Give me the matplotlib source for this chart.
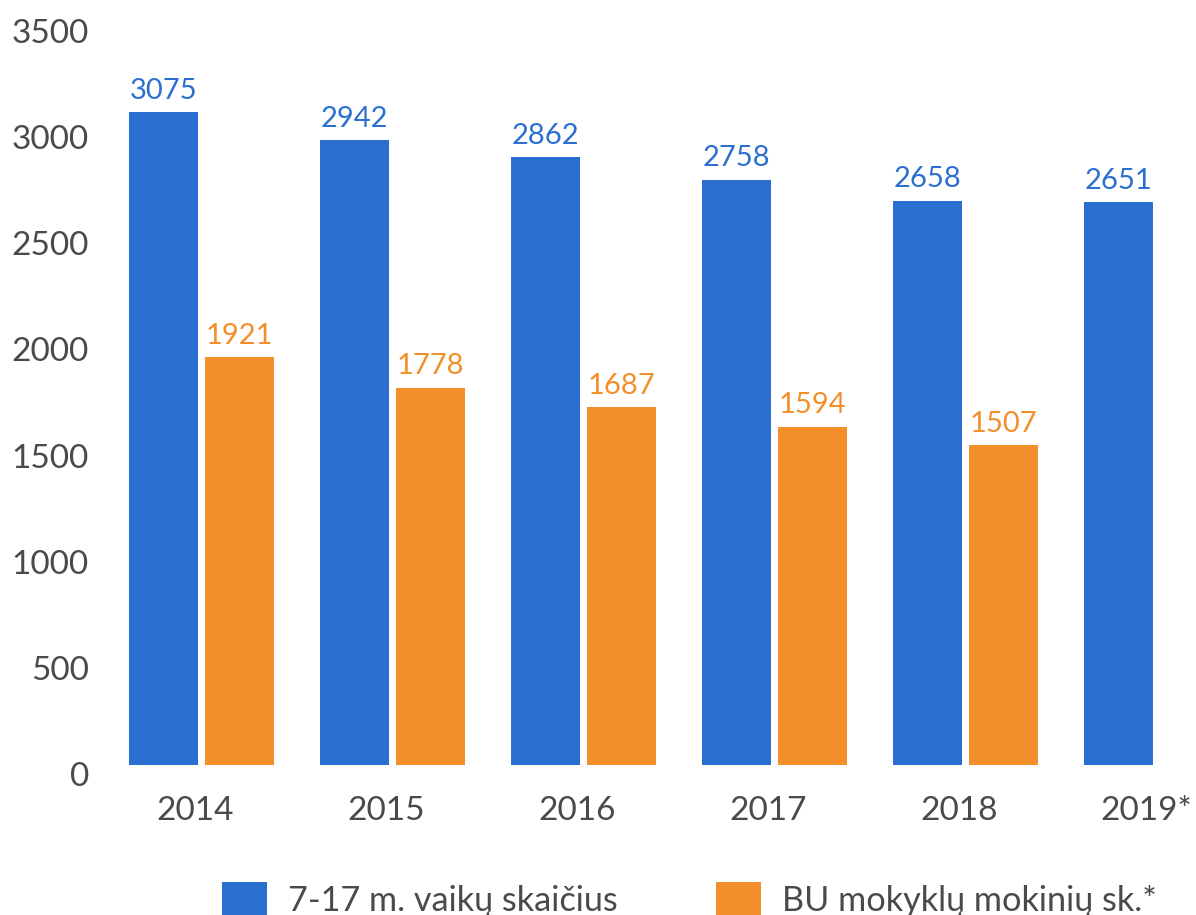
import numpy as np
import matplotlib
matplotlib.use("Agg")
import matplotlib.pyplot as plt
from matplotlib.transforms import ScaledTranslation

plt.rcParams['font.family'] = ['Lato', 'DejaVu Sans']

years = ['2014', '2015', '2016', '2017', '2018', '2019*']
children = [3075, 2942, 2862, 2758, 2658, 2651]
students = [1921, 1778, 1687, 1594, 1507]
series_names = ['7-17 m. vaikų skaičius', 'BU mokyklų mokinių sk.*']

blue = '#2B70D0'
orange = '#F28F2A'
grey = '#4A4A4A'

fig = plt.figure(figsize=(11.96, 9.15), dpi=100)
ax = fig.add_axes([100 / 1196, 150 / 915, 1096 / 1196, 743 / 915])

x = np.arange(len(years))
w = 0.361
off = 0.199

b1 = ax.bar(x - off, children, width=w, color=blue, label=series_names[0])
b2 = ax.bar(x[:len(students)] + off, students, width=w, color=orange, label=series_names[1])

for rect, v in zip(b1, children):
    ax.annotate(str(v), (rect.get_x() + rect.get_width() / 2, v),
                xytext=(0, 6), textcoords='offset points',
                ha='center', va='bottom', fontsize=21, color=blue)
for rect, v in zip(b2, students):
    ax.annotate(str(v), (rect.get_x() + rect.get_width() / 2, v),
                xytext=(0, 6), textcoords='offset points',
                ha='center', va='bottom', fontsize=21, color=orange)

ax.set_xlim(-0.531, 5.207)
ax.set_ylim(0, 3500)
ax.set_yticks(np.arange(0, 3501, 500))
ax.set_xticks(x)
ax.set_xticklabels(years)
ax.tick_params(axis='both', length=0, labelsize=24, labelcolor=grey)
ax.tick_params(axis='x', pad=22)
ax.tick_params(axis='y', pad=8)
for s in ax.spines.values():
    s.set_visible(False)

# shift tick labels a bit like in the original
for lab in ax.get_yticklabels():
    lab.set_transform(lab.get_transform() + ScaledTranslation(0, -0.09, fig.dpi_scale_trans))
xlabs = ax.get_xticklabels()
for lab in xlabs[:-1]:
    lab.set_transform(lab.get_transform() + ScaledTranslation(-0.06, 0, fig.dpi_scale_trans))
xlabs[-1].set_transform(xlabs[-1].get_transform() + ScaledTranslation(-0.10, 0, fig.dpi_scale_trans))

fig.legend(handles=[b1, b2], loc='lower left', bbox_to_anchor=(222 / 1196, -0.002),
           ncol=2, frameon=False, fontsize=24.7, labelcolor=grey,
           handlelength=1.31, handleheight=1.2, handletextpad=0.61,
           columnspacing=2.86, borderpad=0, borderaxespad=0)

fig.savefig('out.png', dpi=100)
